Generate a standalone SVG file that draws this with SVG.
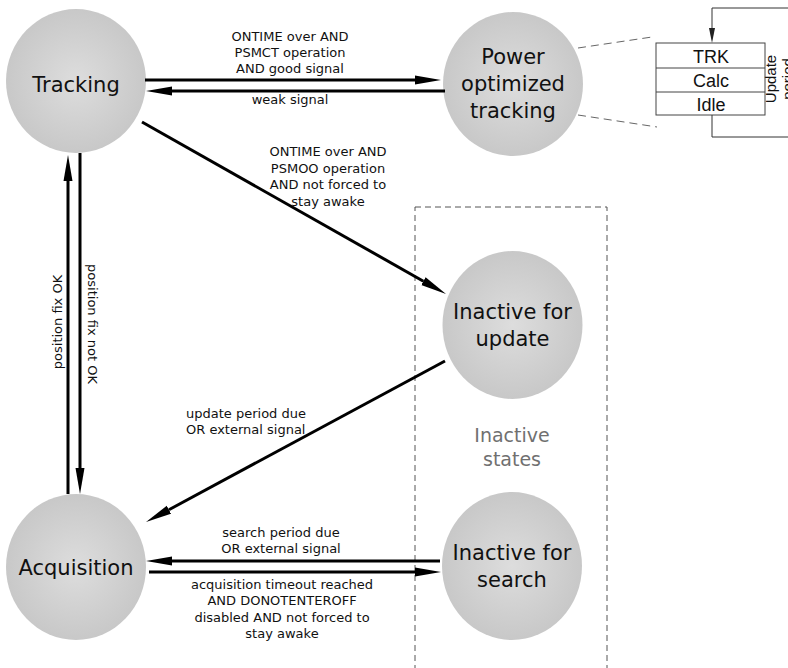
<svg xmlns="http://www.w3.org/2000/svg" width="788" height="668" viewBox="0 0 788 668">
<style>
.node ellipse{fill:url(#g);stroke:none}
.nl{font-family:"DejaVu Sans",sans-serif;font-size:21px;fill:#111;text-anchor:middle}
.lb{font-family:"DejaVu Sans",sans-serif;font-size:13px;fill:#111;text-anchor:middle}
.lbs{font-family:"DejaVu Sans",sans-serif;font-size:13px;fill:#111;text-anchor:start}
.ln{fill:none;stroke:#000;stroke-width:3}
.bx{font-family:"Liberation Sans",Arial,sans-serif;font-size:18px;fill:#111;text-anchor:middle}
</style>
<defs>
<radialGradient id="g" cx="0.5" cy="0.5" r="0.5">
<stop offset="0" stop-color="#dddddd"/>
<stop offset="1" stop-color="#c8c8c8"/>
</radialGradient>
<marker id="a" markerUnits="userSpaceOnUse" markerWidth="27" markerHeight="10" viewBox="0 -5 27 10" refX="0" refY="0" orient="auto">
<path d="M0,-4.5 L26,0 L0,4.5 z" fill="#000"/>
</marker>
<marker id="s" markerUnits="userSpaceOnUse" markerWidth="16" markerHeight="8" viewBox="0 -4 16 8" refX="0" refY="0" orient="auto">
<path d="M0,-3 L15,0 L0,3 z" fill="#222"/>
</marker>
</defs>
<rect width="788" height="668" fill="#fff"/>

<g id="inactive-states">
<rect x="415" y="207" width="192" height="480" fill="none" stroke="#555" stroke-width="1" stroke-dasharray="6,4"/>
<text x="512" y="442" font-family="DejaVu Sans,sans-serif" font-size="19" fill="#707070" text-anchor="middle">Inactive</text>
<text x="512" y="466" font-family="DejaVu Sans,sans-serif" font-size="19" fill="#707070" text-anchor="middle">states</text>
</g>

<g id="tracking" class="node">
<ellipse cx="76" cy="81" rx="70" ry="72"/>
<text class="nl" x="76" y="92">Tracking</text>
</g>
<g id="power-optimized-tracking" class="node">
<ellipse cx="513" cy="84" rx="70" ry="72"/>
<text class="nl" x="513" y="64">Power</text>
<text class="nl" x="513" y="91">optimized</text>
<text class="nl" x="513" y="118">tracking</text>
</g>
<g id="inactive-for-update" class="node">
<ellipse cx="512.5" cy="325" rx="70" ry="74"/>
<text class="nl" x="512.5" y="319">Inactive for</text>
<text class="nl" x="512.5" y="346">update</text>
</g>
<g id="inactive-for-search" class="node">
<ellipse cx="512" cy="566" rx="70" ry="74"/>
<text class="nl" x="512" y="560">Inactive for</text>
<text class="nl" x="512" y="587">search</text>
</g>
<g id="acquisition" class="node">
<ellipse cx="76" cy="567" rx="70" ry="73"/>
<text class="nl" x="76" y="575">Acquisition</text>
</g>

<g id="tracking-detail">
<line x1="578" y1="48" x2="652" y2="37" stroke="#666" stroke-width="1" stroke-dasharray="8,5"/>
<line x1="578" y1="115" x2="657" y2="127" stroke="#666" stroke-width="1" stroke-dasharray="8,5"/>
<rect x="656" y="43" width="109" height="72" fill="#fff" stroke="#444" stroke-width="1"/>
<line x1="656" y1="68" x2="765" y2="68" stroke="#444" stroke-width="1"/>
<line x1="656" y1="92" x2="765" y2="92" stroke="#444" stroke-width="1"/>
<text class="bx" x="711" y="63">TRK</text>
<text class="bx" x="711" y="87">Calc</text>
<text class="bx" x="711" y="111">Idle</text>
<path d="M712,115 V137 H790" fill="none" stroke="#333" stroke-width="1"/>
<path d="M790,8 H712 V28" fill="none" stroke="#333" stroke-width="1" marker-end="url(#s)"/>
<text font-family="Liberation Sans,Arial,sans-serif" font-size="15" fill="#111" text-anchor="middle" transform="translate(776,79) rotate(-90)">Update</text>
<text font-family="Liberation Sans,Arial,sans-serif" font-size="15" fill="#111" text-anchor="middle" transform="translate(793,79) rotate(-90)">period</text>
</g>

<g id="connectors">
<line class="ln" x1="145" y1="80" x2="415" y2="80" marker-end="url(#a)"/>
<line class="ln" x1="445" y1="91" x2="172" y2="91" marker-end="url(#a)"/>
<line class="ln" x1="142" y1="122" x2="423.4" y2="281.2" marker-end="url(#a)"/>
<line class="ln" x1="445" y1="361" x2="168.9" y2="509.7" marker-end="url(#a)"/>
<line class="ln" x1="440" y1="561" x2="172" y2="561" marker-end="url(#a)"/>
<line class="ln" x1="149" y1="572" x2="415" y2="572" marker-end="url(#a)"/>
<line class="ln" x1="68" y1="494" x2="68" y2="181" marker-end="url(#a)"/>
<line class="ln" x1="80" y1="153" x2="80" y2="468" marker-end="url(#a)"/>

<text class="lb" x="290" y="41">ONTIME over AND</text>
<text class="lb" x="290" y="57">PSMCT operation</text>
<text class="lb" x="290" y="73">AND good signal</text>
<text class="lb" x="290" y="104">weak signal</text>

<text class="lb" x="328" y="156">ONTIME over AND</text>
<text class="lb" x="328" y="172.5">PSMOO operation</text>
<text class="lb" x="328" y="189">AND not forced to</text>
<text class="lb" x="328" y="205.5">stay awake</text>

<text class="lbs" x="186" y="418">update period due</text>
<text class="lbs" x="186" y="434">OR external signal</text>

<text class="lb" x="281" y="537">search period due</text>
<text class="lb" x="281" y="553">OR external signal</text>

<text class="lb" x="282" y="589">acquisition timeout reached</text>
<text class="lb" x="282" y="605.3">AND DONOTENTEROFF</text>
<text class="lb" x="282" y="621.6">disabled AND not forced to</text>
<text class="lb" x="282" y="638">stay awake</text>

<text class="lb" transform="translate(61.5,322) rotate(-90)">position fix OK</text>
<text class="lb" transform="translate(87.5,324) rotate(90)">position fix not OK</text>
</g>
</svg>
